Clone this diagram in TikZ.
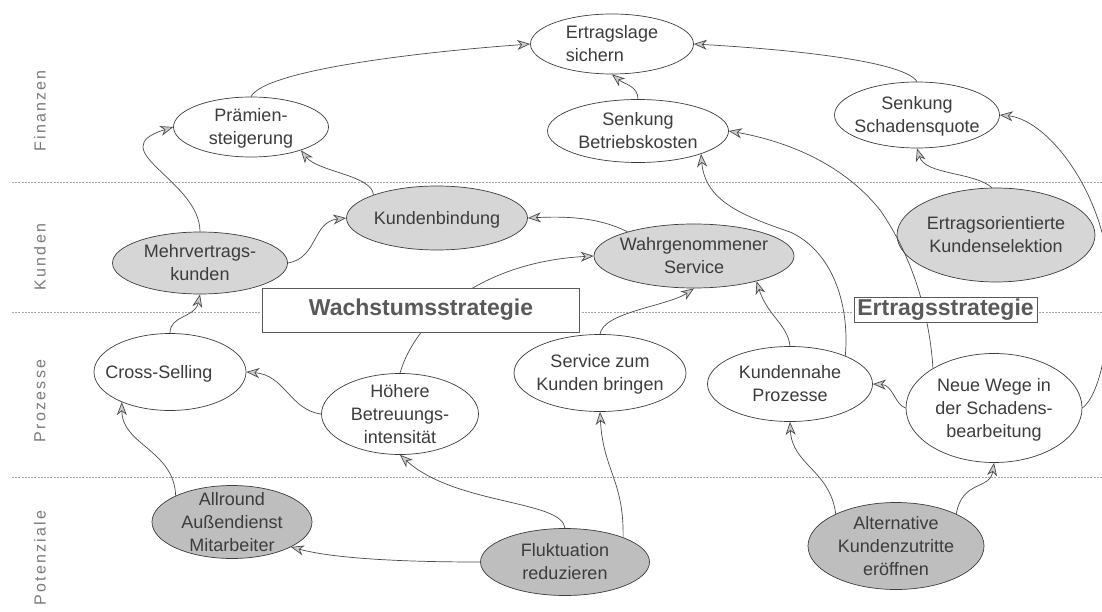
\documentclass[tikz,border=0pt]{standalone}
\usepackage{fontspec}
\setmainfont{Liberation Sans}
\newfontfamily\lanefont[LetterSpace=14]{Liberation Sans}
\usetikzlibrary{shapes.geometric,arrows.meta}

\definecolor{ink}{HTML}{3C3C3C}
\definecolor{edgegray}{HTML}{4A4A4A}
\definecolor{shadeA}{HTML}{D6D6D6}
\definecolor{shadeB}{HTML}{BEBEBE}
\definecolor{lanegray}{HTML}{7A7A7A}

% zero-size label boxes, so the ellipse size comes from minimum width/height only
\newcommand\ctext[1]{\makebox[0pt]{\smash{\raisebox{-6pt}{\begin{tabular}{@{}c@{}}#1\end{tabular}}}}}
\newcommand\ltext[1]{\makebox[0pt]{\smash{\raisebox{-6pt}{\begin{tabular}{@{}l@{}}#1\end{tabular}}}}}

\tikzset{
  goal/.style={ellipse, draw=ink, line width=.7pt, fill=white, inner sep=0pt,
    text=ink, font=\fontsize{18}{23}\selectfont},
  soft/.style={goal, fill=shadeA},
  base/.style={goal, fill=shadeB},
  flow/.style={draw=edgegray, line width=.7pt,
    -{Stealth[length=13pt,width=10pt,inset=4pt,fill=gray!40]}},
  lane/.style={draw=gray!70, line width=.6pt, dash pattern=on 2pt off 1.2pt},
  lanelbl/.style={rotate=90, text=lanegray, inner sep=0pt,
    font=\lanefont\fontsize{16}{18}\selectfont},
  strat/.style={rectangle, draw=gray!70!black, line width=.7pt, fill=white,
    inner sep=0pt, text=black!65, font=\bfseries\fontsize{23}{26}\selectfont}
}

\begin{document}
\begin{tikzpicture}[x=1pt,y=-1pt]
\useasboundingbox (0,0) rectangle (1102,612);
\clip (0,0) rectangle (1102,612);

% swim lanes
\draw[lane] (12,182) -- (1102,182);
\draw[lane] (12,312) -- (1102,312);
\draw[lane] (12,477) -- (1102,477);
\node[lanelbl] (lfin)  at (40,111) {Finanzen};
\node[lanelbl] (lkun)  at (40,257) {Kunden};
\node[lanelbl] (lpro)  at (40,401) {Prozesse};
\node[lanelbl] (lpot)  at (40,558) {Potenziale};

% Finanzen
\node[goal, minimum width=163pt, minimum height=60pt] (ertrag)  at (612,44)  {\ltext{Ertragslage\\sichern}};
\node[goal, minimum width=155pt, minimum height=60pt] (praem)   at (251,127) {\ctext{Prämien-\\steigerung}};
\node[goal, minimum width=181pt, minimum height=63pt] (betrieb) at (638,131) {\ctext{Senkung\\Betriebskosten}};
\node[goal, minimum width=165pt, minimum height=66pt] (schaden) at (917,115) {\ctext{Senkung\\Schadensquote}};

% Kunden
\node[soft, minimum width=181pt, minimum height=64pt] (bindung) at (437,218) {\ctext{Kundenbindung}};
\node[soft, minimum width=175pt, minimum height=62pt] (mehr)    at (200,263) {\ctext{Mehrvertrags-\\kunden}};
\node[soft, minimum width=200pt, minimum height=64pt] (wahr)    at (694,256) {\ctext{Wahrgenommener\\Service}};
\node[soft, minimum width=198pt, minimum height=94pt] (selekt)  at (996,235) {\ctext{Ertragsorientierte\\Kundenselektion}};

% Prozesse
\node[goal, minimum width=152pt, minimum height=77pt]  (cross)   at (170,372) {\ctext{\hspace*{-22pt}Cross-Selling}};
\node[goal, minimum width=157pt, minimum height=81pt]  (hoeher)  at (400,414) {\ctext{Höhere\\Betreuungs-\\intensität}};
\node[goal, minimum width=172pt, minimum height=77pt]  (service) at (600,373) {\ctext{Service zum\\Kunden bringen}};
\node[goal, minimum width=165pt, minimum height=75pt]  (nahe)    at (790,384) {\ctext{Kundennahe\\Prozesse}};
\node[goal, minimum width=176pt, minimum height=109pt] (wege)    at (994,408) {\ctext{Neue Wege in\\der Schadens-\\bearbeitung}};

% Potenziale
\node[base, minimum width=160pt, minimum height=73pt] (allround) at (232,522) {\ctext{Allround\\Außendienst\\Mitarbeiter}};
\node[base, minimum width=169pt, minimum height=67pt] (flukt)    at (565,562) {\ctext{Fluktuation\\reduzieren}};
\node[base, minimum width=176pt, minimum height=87pt] (altern)   at (896,546) {\ctext{Alternative\\Kundenzutritte\\eröffnen}};

% cause-and-effect links
\draw[flow] (praem.north) .. controls (265,70) and (420,52) .. (ertrag.west);
\draw[flow] (betrieb.north) .. controls (638,86) and (624,84) .. (ertrag.south);
\draw[flow] (schaden.north) .. controls (905,62) and (800,50) .. (ertrag.east);
\draw[flow] (mehr.north) .. controls (200,180) and (100,150) .. (praem.west);
\draw[flow] (bindung.160) .. controls (372,175) and (318,172) .. (praem.-25);
\draw[flow] (mehr.east) .. controls (318,258) and (312,222) .. (bindung.west);
\draw[flow] (wahr.160) .. controls (600,218) and (570,216) .. (bindung.east);
\draw[flow] (hoeher.north) .. controls (415,320) and (480,262) .. (wahr.west);
\draw[flow] (service.north) .. controls (603,312) and (668,306) .. (wahr.south);
\draw[flow] (nahe.north) .. controls (788,325) and (767,315) .. (wahr.-22);
\draw[flow] (nahe.27) .. controls (850,300) and (830,250) .. (790,232)
                      .. controls (740,215) and (705,200) .. (betrieb.-20);
\draw[flow] (wege.147) .. controls (930,320) and (915,260) .. (880,210)
                       .. controls (840,160) and (780,140) .. (betrieb.east);
\draw[flow] (wege.west) .. controls (895,405) and (893,385) .. (nahe.east);
\draw[flow] (wege.east) .. controls (1100,395) and (1110,340) .. (1110,290)
                        .. controls (1110,200) and (1050,120) .. (schaden.east);
\draw[flow] (selekt.95) .. controls (975,172) and (925,175) .. (schaden.south);
\draw[flow] (allround.155) .. controls (174,450) and (122,445) .. (cross.212);
\draw[flow] (cross.north) .. controls (170,315) and (195,318) .. (mehr.south);
\draw[flow] (hoeher.west) .. controls (290,410) and (285,375) .. (cross.east);
\draw[flow] (flukt.north) .. controls (562,500) and (455,505) .. (hoeher.south);
\draw[flow] (flukt.west) .. controls (420,562) and (340,560) .. (allround.-23);
\draw[flow] (flukt.23) .. controls (624,480) and (603,470) .. (service.south);
\draw[flow] (altern.152) .. controls (830,470) and (792,465) .. (nahe.south);
\draw[flow] (altern.28) .. controls (962,480) and (990,490) .. (wege.south);

% strategy labels on top of the links
\node[strat, minimum width=317pt, minimum height=44pt] (wachstum)   at (421,310)   {Wachstumsstrategie};
\node[strat, minimum width=183pt, minimum height=25pt] (ertragsstr) at (945.5,309.5) {Ertragsstrategie};
\end{tikzpicture}
\end{document}
